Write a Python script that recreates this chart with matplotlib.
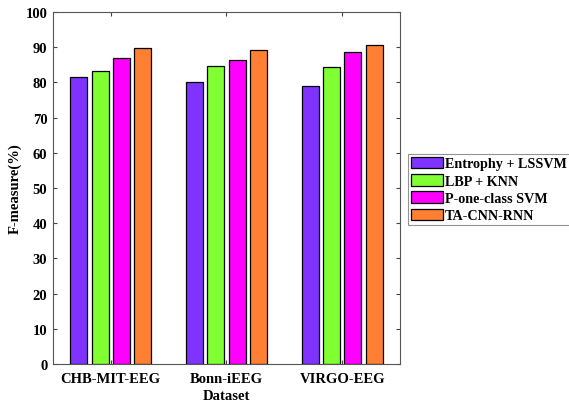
import numpy as np
import matplotlib.pyplot as plt

datasets = ['CHB-MIT-EEG', 'Bonn-iEEG', 'VIRGO-EEG']
methods = ['Entrophy + LSSVM', 'LBP + KNN', 'P-one-class SVM', 'TA-CNN-RNN']
entropy_lssvm = [81.4, 80.0, 79.1]
lbp_knn = [83.3, 84.6, 84.4]
p_one_class_svm = [86.8, 86.4, 88.6]
ta_cnn_rnn = [89.7, 89.2, 90.5]
yticks = list(range(0, 101, 10))

plt.rcParams['font.family'] = ['Liberation Serif', 'DejaVu Serif']
plt.rcParams['font.weight'] = 'bold'

colors = ['#8033ff', '#80ff33', '#ff00ff', '#ff8033']
series = [entropy_lssvm, lbp_knn, p_one_class_svm, ta_cnn_rnn]

fig = plt.figure(figsize=(5.69, 4.06), dpi=100)
ax = fig.add_axes([0.093, 0.101, 0.610, 0.867])

x = np.arange(1, len(datasets) + 1)
pitch = 0.184
w = 0.147
for i, (vals, c, lab) in enumerate(zip(series, colors, methods)):
    ax.bar(x + (i - 1.5) * pitch, vals, width=w, color=c, edgecolor='black',
           linewidth=0.9, label=lab)

ax.set_xlim(0.5, 3.5)
ax.set_ylim(0, 100)
ax.set_xticks(x)
ax.set_xticklabels(datasets)
ax.set_yticks(yticks)
ax.tick_params(direction='in', top=True, right=True, labelsize=10.5,
               length=3, color='#444444')
ax.tick_params(axis='x', pad=6)
ax.tick_params(axis='y', pad=4)
for s in ax.spines.values():
    s.set_color('#555555')
    s.set_linewidth(0.8)
for t in ax.get_xticklabels() + ax.get_yticklabels():
    t.set_fontweight('bold')
ax.set_xlabel('Dataset', fontsize=10.5, fontweight='bold', labelpad=3)
ax.set_ylabel('F-measure(%)', fontsize=10.5, fontweight='bold', labelpad=3)

leg = ax.legend(loc='upper left', bbox_to_anchor=(1.023, 0.597),
                fontsize=10.2, frameon=True, fancybox=False,
                handlelength=2.25, handleheight=0.9, handletextpad=0.15,
                labelspacing=0.25, borderpad=0.2, borderaxespad=0)
leg.get_frame().set_edgecolor('#777777')
leg.get_frame().set_linewidth(0.8)
for t in leg.get_texts():
    t.set_fontweight('bold')

fig.savefig('out.png', dpi=100)
